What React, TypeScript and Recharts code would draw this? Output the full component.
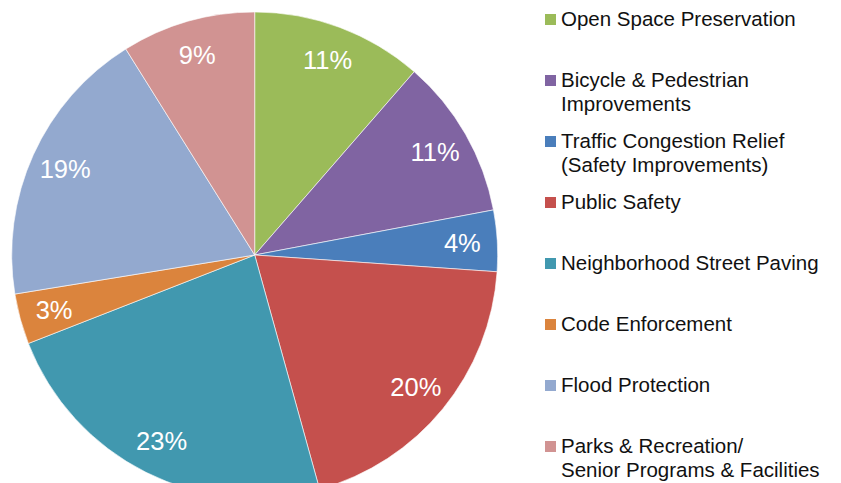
import { PieChart, Pie, Cell, Legend } from 'recharts'

const categories = [
  'Open Space Preservation',
  'Bicycle & Pedestrian\nImprovements',
  'Traffic Congestion Relief\n(Safety Improvements)',
  'Public Safety',
  'Neighborhood Street Paving',
  'Code Enforcement',
  'Flood Protection',
  'Parks & Recreation/\nSenior Programs & Facilities',
]

const shares = [11.4, 10.63, 4.07, 19.6, 23.37, 3.36, 18.67, 8.9]

const colors = ['#9BBB59', '#8064A2', '#4A7EBB', '#C5504D', '#4198AF', '#DB843D', '#93A9CF', '#D19392']

const chartData = categories.map((name, i) => ({ name, value: shares[i] }))

const RAD = Math.PI / 180
const FONT = '"Liberation Sans", Arial, sans-serif'

const renderLabel = (props: any) => {
  const { cx, cy, midAngle, value } = props
  const r = 208
  const x = cx + r * Math.cos(-midAngle * RAD)
  const y = cy + r * Math.sin(-midAngle * RAD)
  return (
    <text
      x={x}
      y={y}
      fill="#ffffff"
      fontSize={25.5}
      fontFamily={FONT}
      textAnchor="middle"
      dominantBaseline="central"
    >
      {Math.round(value)}%
    </text>
  )
}

const renderLegend = () => (
  <div style={{ fontFamily: FONT, fontSize: 20.5, color: '#111' }}>
    {chartData.map((d, i) => (
      <div key={d.name} style={{ position: 'absolute', left: 0, top: i * 61, whiteSpace: 'nowrap' }}>
        <span
          style={{
            position: 'absolute',
            left: 0,
            top: 7,
            width: 11,
            height: 11,
            background: colors[i],
          }}
        />
        <div style={{ marginLeft: 16, lineHeight: '24px', whiteSpace: 'pre' }}>{d.name}</div>
      </div>
    ))}
  </div>
)

export default function App() {
  return (
    <div style={{ position: 'absolute', left: 0, top: 0, width: 841, height: 483, background: '#fff', overflow: 'hidden' }}>
      <PieChart width={841} height={483} margin={{ top: 0, right: 0, bottom: 0, left: 0 }}>
        <Pie
          data={chartData}
          dataKey="value"
          nameKey="name"
          cx={254.7}
          cy={255}
          outerRadius={243}
          startAngle={90}
          endAngle={-270}
          stroke="#ffffff"
          strokeWidth={0.6}
          label={renderLabel}
          labelLine={false}
          isAnimationActive={false}
        >
          {chartData.map((d, i) => (
            <Cell key={d.name} fill={colors[i]} />
          ))}
        </Pie>
        <Legend
          content={renderLegend}
          wrapperStyle={{ position: 'absolute', left: 545, top: 7, width: 296, height: 476 }}
        />
      </PieChart>
    </div>
  )
}
